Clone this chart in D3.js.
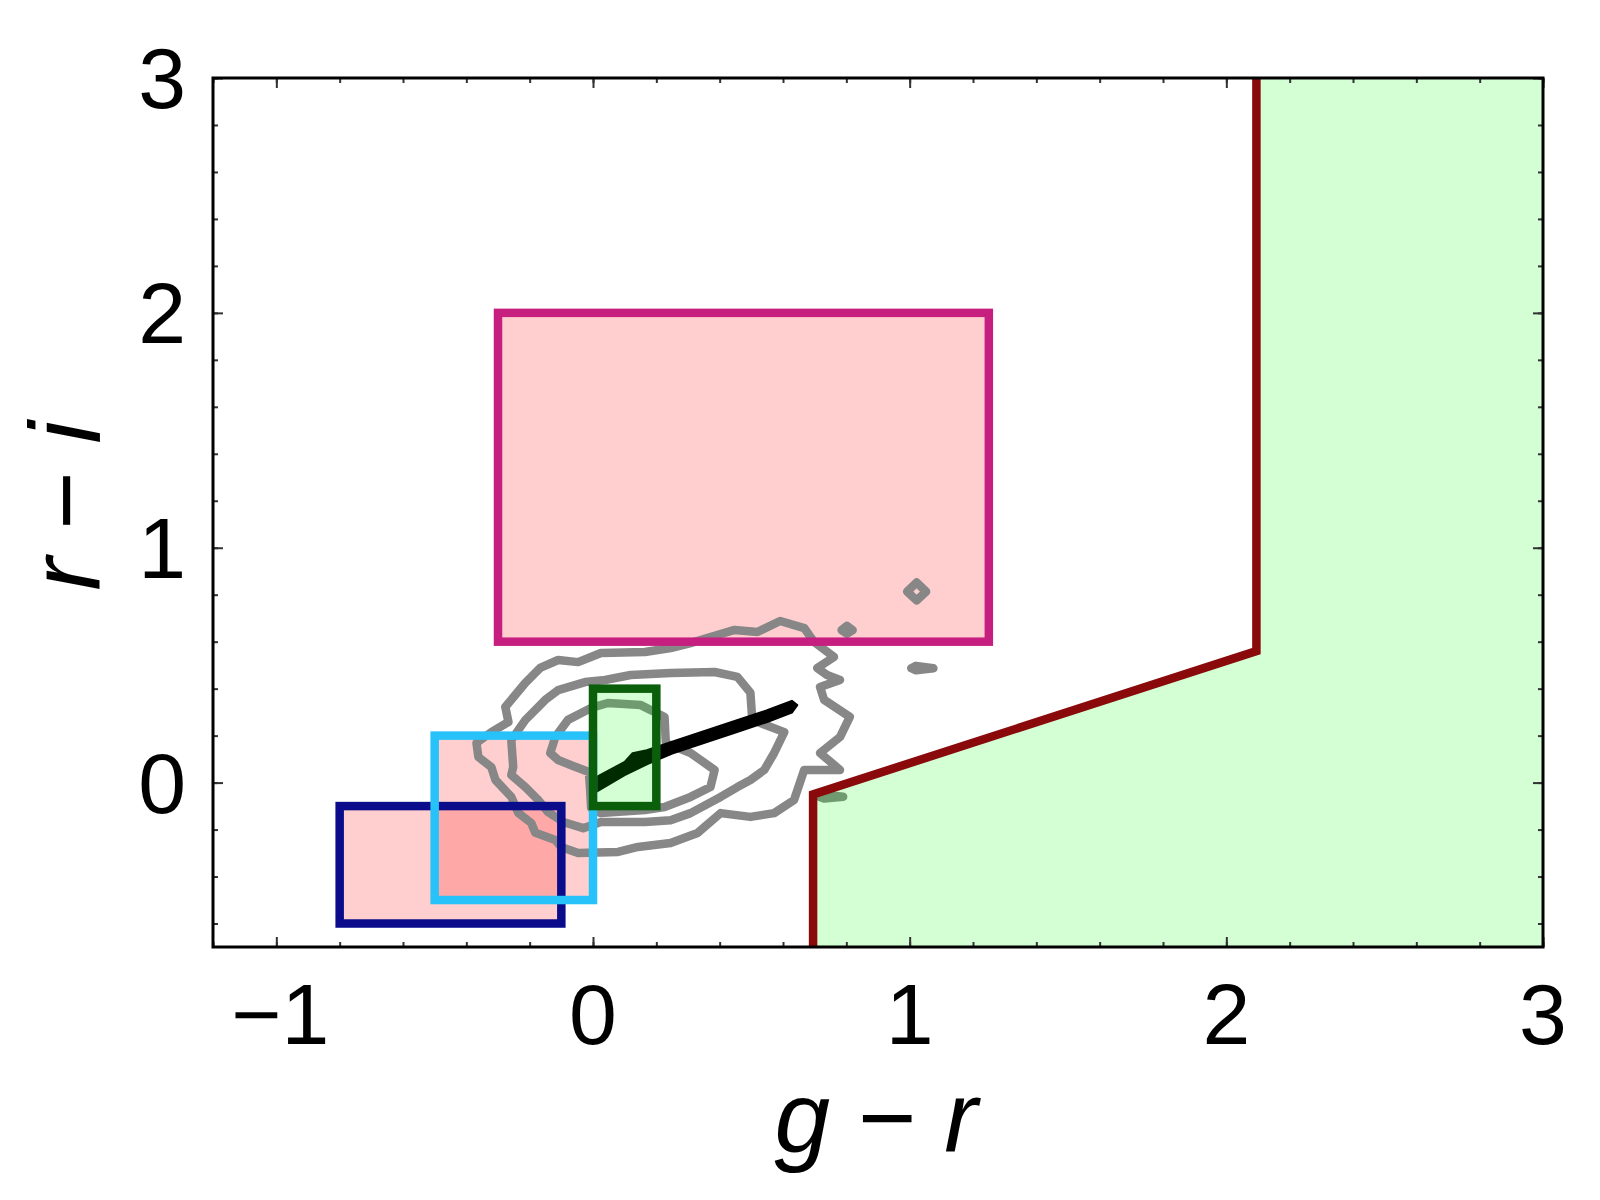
<!DOCTYPE html>
<html><head><meta charset="utf-8">
<script src="https://cdn.jsdelivr.net/npm/d3@7"></script>
<style>body{margin:0;background:#fff} svg{display:block}</style>
</head><body>
<svg id="chart" width="1600" height="1200"></svg>
<script>
// ---------- data ----------
const xDomain = [-1.2, 3];
const yDomain = [-0.7, 3];
const xTickValues = [-1, 0, 1, 2, 3];
const yTickValues = [0, 1, 2, 3];
const xLabelParts = ["g", " − ", "r"];
const yLabelParts = ["r", " − ", "i"];

// selection boxes (g-r range, r-i range)
const boxNames = ["magenta", "navy", "cyan", "green"];
const boxGR0 = [-0.3, -0.8, -0.5, 0.0];
const boxGR1 = [1.25, -0.1, 0.0, 0.2];
const boxRI0 = [0.6, -0.6, -0.5, -0.1];
const boxRI1 = [2.0, -0.1, 0.2, 0.4];
const boxStroke = ["#c71f80", "#0a0c8c", "#26c2f9", "#0b5f0b"];
const boxFill = ["red", "red", "red", "#00ff00"];

// colour cut (dark red boundary)
const cutGR = [0.695, 0.695, 2.095, 2.095];
const cutRI = [-0.7, -0.05, 0.56, 3.0];

// density contours of the sample (g-r, r-i)
const contourOuter = [[-0.368,0.169],[-0.321,0.215],[-0.267,0.258],[-0.277,0.322],[-0.214,0.424],[-0.167,0.488],[-0.110,0.522],[-0.047,0.513],[0.025,0.552],[0.164,0.556],[0.245,0.573],[0.308,0.594],[0.371,0.620],[0.447,0.650],[0.519,0.641],[0.591,0.688],[0.667,0.658],[0.698,0.599],[0.761,0.535],[0.708,0.488],[0.739,0.458],[0.780,0.437],[0.717,0.407],[0.730,0.352],[0.811,0.280],[0.780,0.194],[0.717,0.126],[0.780,0.054],[0.667,0.054],[0.635,-0.074],[0.572,-0.130],[0.497,-0.146],[0.403,-0.130],[0.330,-0.215],[0.245,-0.257],[0.142,-0.274],[0.079,-0.295],[-0.047,-0.300],[-0.101,-0.274],[-0.119,-0.244],[-0.182,-0.214],[-0.195,-0.172],[-0.236,-0.129],[-0.258,-0.061],[-0.308,0.011],[-0.321,0.066],[-0.362,0.109]];
const contourMiddle = [[-0.252,0.066],[-0.258,0.181],[-0.214,0.266],[-0.151,0.352],[-0.110,0.394],[-0.025,0.428],[0.038,0.437],[0.119,0.458],[0.245,0.467],[0.384,0.471],[0.456,0.450],[0.497,0.383],[0.503,0.267],[0.604,0.215],[0.572,0.126],[0.541,0.054],[0.497,0.011],[0.456,-0.019],[0.403,-0.061],[0.308,-0.130],[0.245,-0.160],[0.164,-0.168],[0.025,-0.168],[-0.031,-0.194],[-0.094,-0.168],[-0.142,-0.125],[-0.173,-0.074],[-0.214,-0.019],[-0.258,0.032]];
const contourInner = [[-0.135,0.126],[-0.119,0.194],[-0.079,0.267],[-0.006,0.318],[0.047,0.339],[0.151,0.330],[0.226,0.279],[0.230,0.168],[0.308,0.126],[0.384,0.054],[0.371,-0.019],[0.308,-0.061],[0.226,-0.104],[0.164,-0.117],[0.025,-0.130],[-0.006,-0.108],[-0.009,-0.032],[-0.013,0.045],[-0.063,0.071],[-0.110,0.096]];
const islandA = [[0.992,0.813],[1.022,0.852],[1.052,0.813],[1.022,0.776]];
const islandB = [[0.785,0.649],[0.802,0.667],[0.820,0.649],[0.802,0.634]];
const islandC = [[1.005,0.487],[1.020,0.497],[1.075,0.487],[1.020,0.478]];
const islandD = [[0.715,-0.060],[0.730,-0.052],[0.790,-0.060],[0.730,-0.068]];

// stellar locus (filled band)
const locusUpper = [[0.000,0.016],[0.100,0.088],[0.125,0.125],[0.170,0.138],[0.250,0.174],[0.350,0.219],[0.450,0.264],[0.550,0.308],[0.628,0.348],[0.645,0.330]];
const locusLower = [[0.628,0.298],[0.550,0.258],[0.450,0.213],[0.350,0.168],[0.250,0.124],[0.170,0.078],[0.100,0.032],[0.010,-0.040]];

// ---------- drawing ----------
const svg = d3.select("#chart");
const x = d3.scaleLinear().domain(xDomain).range([213, 1543]);
const y = d3.scaleLinear().domain(yDomain).range([947, 78]);
const line = d3.line().x(d => x(d[0])).y(d => y(d[1]));
const FONT = "'Liberation Sans', Arial, Helvetica, sans-serif";
const boxRect = i => ({x0: x(boxGR0[i]), x1: x(boxGR1[i]), y0: y(boxRI1[i]), y1: y(boxRI0[i])});

// pink box fills (under the contours)
boxNames.forEach((n, i) => {
  if (i === 3) return;
  const r = boxRect(i);
  svg.append("rect").attr("x", r.x0).attr("y", r.y0).attr("width", r.x1 - r.x0).attr("height", r.y1 - r.y0)
    .attr("fill", boxFill[i]).attr("fill-opacity", 0.19).attr("stroke", "none");
});

// contours
const contourG = svg.append("g").attr("fill", "none").attr("stroke", "#878787")
  .attr("stroke-width", 8.5).attr("stroke-linejoin", "round");
[contourOuter, contourMiddle, contourInner, islandA, islandB, islandC, islandD].forEach(c => {
  contourG.append("path").attr("d", line(c) + "Z");
});

// stellar locus
svg.append("path").attr("d", line(locusUpper.concat(locusLower)) + "Z")
  .attr("fill", "#000").attr("stroke", "#000").attr("stroke-width", 2).attr("stroke-linejoin", "round");

// colour-cut region
const regionPts = cutGR.map((g, i) => [g, cutRI[i]]).concat([[xDomain[1], yDomain[1]], [xDomain[1], yDomain[0]]]);
svg.append("path").attr("d", line(regionPts) + "Z")
  .attr("fill", "#00ff00").attr("fill-opacity", 0.17).attr("stroke", "none");

// green box fill (over the locus)
{
  const r = boxRect(3);
  svg.append("rect").attr("x", r.x0).attr("y", r.y0).attr("width", r.x1 - r.x0).attr("height", r.y1 - r.y0)
    .attr("fill", boxFill[3]).attr("fill-opacity", 0.17).attr("stroke", "none");
}

// box outlines
boxNames.forEach((n, i) => {
  const r = boxRect(i);
  svg.append("rect").attr("x", r.x0).attr("y", r.y0).attr("width", r.x1 - r.x0).attr("height", r.y1 - r.y0)
    .attr("fill", "none").attr("stroke", boxStroke[i]).attr("stroke-width", 8.5);
});

// colour-cut boundary
svg.append("path").attr("d", line(cutGR.map((g, i) => [g, cutRI[i]])))
  .attr("fill", "none").attr("stroke", "#8a0a0c").attr("stroke-width", 8.5).attr("stroke-linejoin", "miter");

// frame ticks
const minorX = d3.range(-1.2, 3.001, 0.2).map(v => +v.toFixed(2));
const minorY = d3.range(-0.6, 3.001, 0.2).map(v => +v.toFixed(2));
function ticks(axisFn, scale, vals, size, transform) {
  svg.append("g").attr("transform", transform)
    .call(axisFn(scale).tickValues(vals).tickSize(size).tickFormat(""))
    .call(g => g.select(".domain").remove())
    .call(g => g.selectAll("line").attr("stroke", "#333").attr("stroke-width", 2));
}
ticks(d3.axisBottom, x, minorX, -5, `translate(0,947)`);
ticks(d3.axisBottom, x, xTickValues, -10, `translate(0,947)`);
ticks(d3.axisTop, x, minorX, -5, `translate(0,78)`);
ticks(d3.axisTop, x, xTickValues, -10, `translate(0,78)`);
ticks(d3.axisLeft, y, minorY, -5, `translate(213,0)`);
ticks(d3.axisLeft, y, yTickValues, -10, `translate(213,0)`);
ticks(d3.axisRight, y, minorY, -5, `translate(1543,0)`);
ticks(d3.axisRight, y, yTickValues, -10, `translate(1543,0)`);

// frame
svg.append("rect").attr("x", 213).attr("y", 78).attr("width", 1543 - 213).attr("height", 947 - 78)
  .attr("fill", "none").attr("stroke", "#000").attr("stroke-width", 3);

// tick labels
const fmt = d => (d < 0 ? "\u2212" : "") + Math.abs(d);
svg.append("g").selectAll("text").data(xTickValues).join("text")
  .attr("x", d => x(d) + (d < 0 ? 4 : 0)).attr("y", 1044)
  .attr("text-anchor", "middle").attr("font-family", FONT).attr("font-size", 86)
  .text(fmt);
svg.append("g").selectAll("text").data(yTickValues).join("text")
  .attr("x", 186).attr("y", d => y(d)).attr("dy", "0.35em")
  .attr("text-anchor", "end").attr("font-family", FONT).attr("font-size", 86)
  .text(fmt);

// axis labels
function axisLabel(parts, tx, ty, rot) {
  const t = svg.append("text").attr("transform", `translate(${tx},${ty}) rotate(${rot})`)
    .attr("text-anchor", "middle").attr("font-family", FONT).attr("font-size", 100);
  parts.forEach((p, i) => t.append("tspan").attr("font-style", i === 1 ? "normal" : "italic").text(p));
}
axisLabel(xLabelParts, 876, 1152, 0);
axisLabel(yLabelParts, 100, 506, -90);
</script>
</body></html>
